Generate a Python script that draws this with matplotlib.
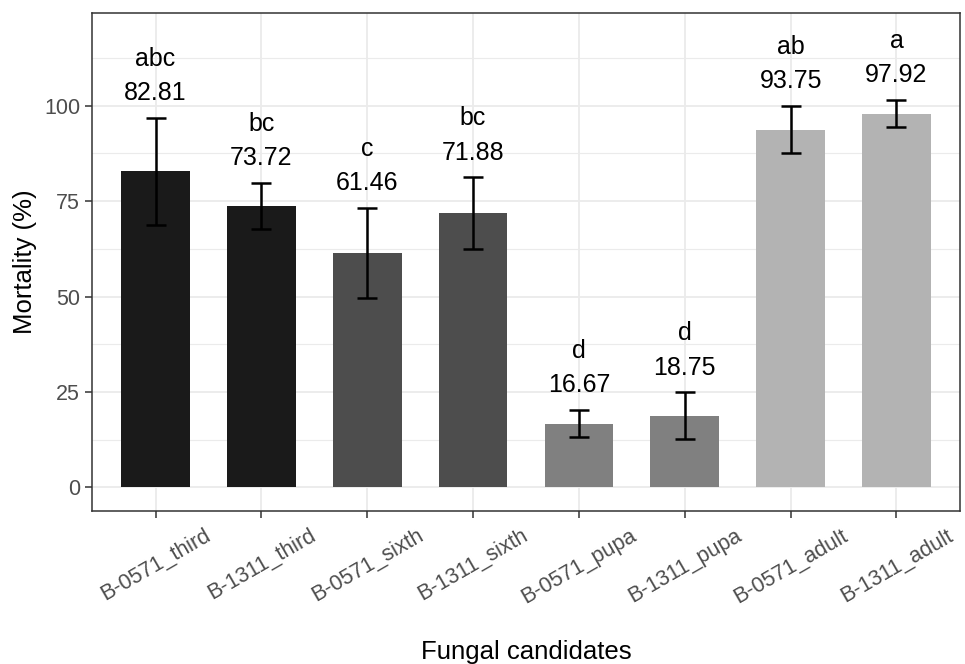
import matplotlib.pyplot as plt
import numpy as np

plt.rcParams['font.family'] = ['Liberation Sans', 'DejaVu Sans']

# data
candidates = ['B-0571_third', 'B-1311_third', 'B-0571_sixth', 'B-1311_sixth',
              'B-0571_pupa', 'B-1311_pupa', 'B-0571_adult', 'B-1311_adult']
mortality = [82.81, 73.72, 61.46, 71.88, 16.67, 18.75, 93.75, 97.92]
errors = [14.1, 6.1, 11.8, 9.4, 3.6, 6.2, 6.2, 3.6]
letters = ['abc', 'bc', 'c', 'bc', 'd', 'd', 'ab', 'a']
bar_colors = ['#1a1a1a', '#1a1a1a', '#4d4d4d', '#4d4d4d',
              '#808080', '#808080', '#b3b3b3', '#b3b3b3']

fig = plt.figure(figsize=(9.65, 6.64), dpi=100)
ax = fig.add_axes([92/965, 1-511/664, (960-92)/965, (511-13)/664])

x = np.arange(len(candidates))
ax.bar(x, mortality, width=0.65, color=bar_colors, zorder=2)
ax.errorbar(x, mortality, yerr=errors, fmt='none', ecolor='black',
            elinewidth=1.8, capsize=7.5, capthick=1.8, zorder=3)

# letters + mean above each error bar
for xi, m, e, lab in zip(x, mortality, errors, letters):
    ax.annotate(f'{lab}\n{m:.2f}', (xi, m + e), xytext=(0, 9),
                textcoords='offset points', ha='center', va='bottom',
                fontsize=18, linespacing=1.55, color='black')

ax.set_xlim(-0.6, len(candidates) - 0.4)
ax.set_ylim(-6.2, 124.3)
ax.set_yticks([0, 25, 50, 75, 100])
ax.set_yticks([12.5, 37.5, 62.5, 87.5, 112.5], minor=True)
ax.set_xticks(x)
ax.set_xticklabels(candidates, rotation=30, ha='center', va='top')

ax.grid(True, which='major', color='#ebebeb', linewidth=1.3, zorder=0)
ax.grid(True, which='minor', axis='y', color='#ebebeb', linewidth=0.8, zorder=0)
ax.set_axisbelow(True)

ax.tick_params(axis='both', which='major', colors='#333333', length=5,
               width=1.1, labelsize=15.5, labelcolor='#4d4d4d')
ax.tick_params(axis='x', pad=5)
ax.tick_params(which='minor', length=0)
for s in ax.spines.values():
    s.set_color('#333333')
    s.set_linewidth(1.1)

ax.set_xlabel('Fungal candidates', fontsize=18.5, labelpad=23)
ax.set_ylabel('Mortality (%)', fontsize=18.5, labelpad=5)

fig.savefig('out.png', dpi=100)
